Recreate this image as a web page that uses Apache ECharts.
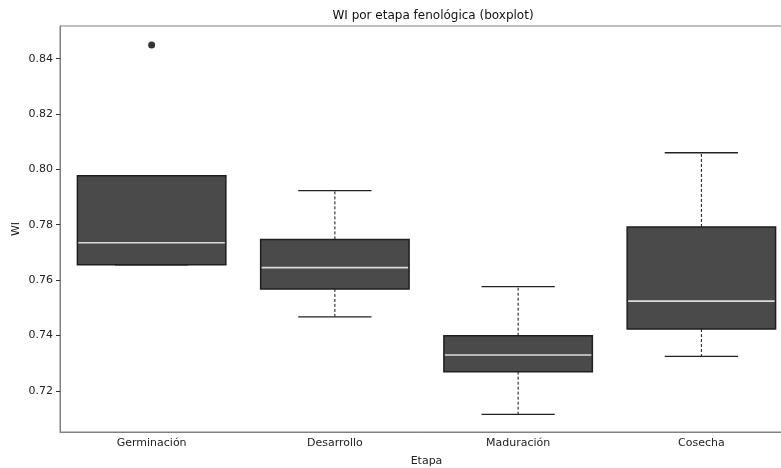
<!DOCTYPE html>
<html>
<head>
<meta charset="utf-8">
<script src="https://cdn.jsdelivr.net/npm/echarts@6/dist/echarts.min.js"></script>
<style>
  html, body { margin: 0; padding: 0; background: #fff; }
  #chart { width: 781px; height: 468px; }
</style>
</head>
<body>
<div id="chart"></div>
<script>
// WI summary statistics per phenological stage
const categories = ['Germinación', 'Desarrollo', 'Maduración', 'Cosecha'];
const lowerWhisker = [0.7655, 0.7467, 0.7115, 0.7324];
const q1 = [0.7655, 0.7568, 0.7269, 0.7423];
const median = [0.7735, 0.7645, 0.7329, 0.7524];
const q3 = [0.7977, 0.7747, 0.7399, 0.7792];
const upperWhisker = [0.7977, 0.7923, 0.7576, 0.8060];
const outliers = [['Germinación', 0.8449]];
const yTicks = [0.72, 0.74, 0.76, 0.78, 0.80, 0.82, 0.84];

const boxData = categories.map((c, i) => [i, lowerWhisker[i], q1[i], median[i], q3[i], upperWhisker[i]]);

const FONT = 'DejaVu Sans';

function renderBox(params, api) {
  const idx = api.value(0);
  const band = api.size([1, 0])[0];
  const half = band * 0.405;
  const capHalf = band * 0.2;
  const cx = api.coord([idx, 0])[0];
  const yLo = api.coord([idx, api.value(1)])[1];
  const yQ1 = api.coord([idx, api.value(2)])[1];
  const yMed = api.coord([idx, api.value(3)])[1];
  const yQ3 = api.coord([idx, api.value(4)])[1];
  const yHi = api.coord([idx, api.value(5)])[1];
  const whiskerStyle = { stroke: '#111', lineWidth: 1, lineDash: [3, 2] };
  const capStyle = { stroke: '#222', lineWidth: 1.3 };
  return {
    type: 'group',
    children: [
      { type: 'line', shape: { x1: cx, y1: yQ3, x2: cx, y2: yHi }, style: whiskerStyle },
      { type: 'line', shape: { x1: cx, y1: yQ1, x2: cx, y2: yLo }, style: whiskerStyle },
      { type: 'line', shape: { x1: cx - capHalf, y1: yHi, x2: cx + capHalf, y2: yHi }, style: capStyle },
      { type: 'line', shape: { x1: cx - capHalf, y1: yLo, x2: cx + capHalf, y2: yLo }, style: capStyle },
      { type: 'rect', shape: { x: cx - half, y: yQ3, width: half * 2, height: yQ1 - yQ3 },
        style: { fill: '#4a4a4a', stroke: '#1e1e1e', lineWidth: 1.5 } },
      { type: 'line', shape: { x1: cx - half + 1, y1: yMed, x2: cx + half - 1, y2: yMed },
        style: { stroke: '#dcdcdc', lineWidth: 1.6 } }
    ]
  };
}

const chart = echarts.init(document.getElementById('chart'), null, { renderer: 'canvas' });
chart.setOption({
  backgroundColor: '#ffffff',
  animation: false,
  title: {
    text: 'WI por etapa fenológica (boxplot)',
    left: 428, top: 5, textAlign: 'center',
    textStyle: { fontFamily: FONT, fontSize: 12, fontWeight: 'normal', color: '#111' }
  },
  grid: {
    left: 60, top: 26, width: 733, height: 406,
    outerBoundsMode: 'none',
    containLabel: false,
    show: true, borderColor: '#808080', borderWidth: 1, backgroundColor: 'transparent'
  },
  xAxis: {
    type: 'category',
    data: categories,
    boundaryGap: true,
    name: 'Etapa',
    nameLocation: 'middle',
    nameGap: 24,
    nameMoveOverlap: false,
    nameTextStyle: { fontFamily: FONT, fontSize: 11, color: '#222' },
    axisLine: { lineStyle: { color: '#808080', width: 1 } },
    axisTick: { alignWithLabel: true, length: 4, lineStyle: { color: '#333' } },
    axisLabel: { fontFamily: FONT, fontSize: 11, color: '#222', margin: 6 },
    splitLine: { show: false }
  },
  yAxis: {
    type: 'value',
    min: 0.7051,
    max: 0.8518,
    name: 'WI',
    nameLocation: 'middle',
    nameGap: 38,
    nameMoveOverlap: false,
    nameTextStyle: { fontFamily: FONT, fontSize: 11, color: '#222' },
    axisLine: { show: true, lineStyle: { color: '#808080', width: 1 } },
    axisTick: { show: true, length: 4, customValues: yTicks, lineStyle: { color: '#333' } },
    axisLabel: { fontFamily: FONT, fontSize: 11, color: '#222', margin: 7, customValues: yTicks,
      formatter: v => v.toFixed(2) },
    splitLine: { show: false }
  },
  series: [
    {
      type: 'custom',
      renderItem: renderBox,
      data: boxData,
      encode: { x: 0, y: [1, 2, 3, 4, 5] },
      clip: false
    },
    {
      type: 'scatter',
      data: outliers,
      symbol: 'circle',
      symbolSize: 7,
      itemStyle: { color: '#000' }
    }
  ]
});
</script>
</body>
</html>
